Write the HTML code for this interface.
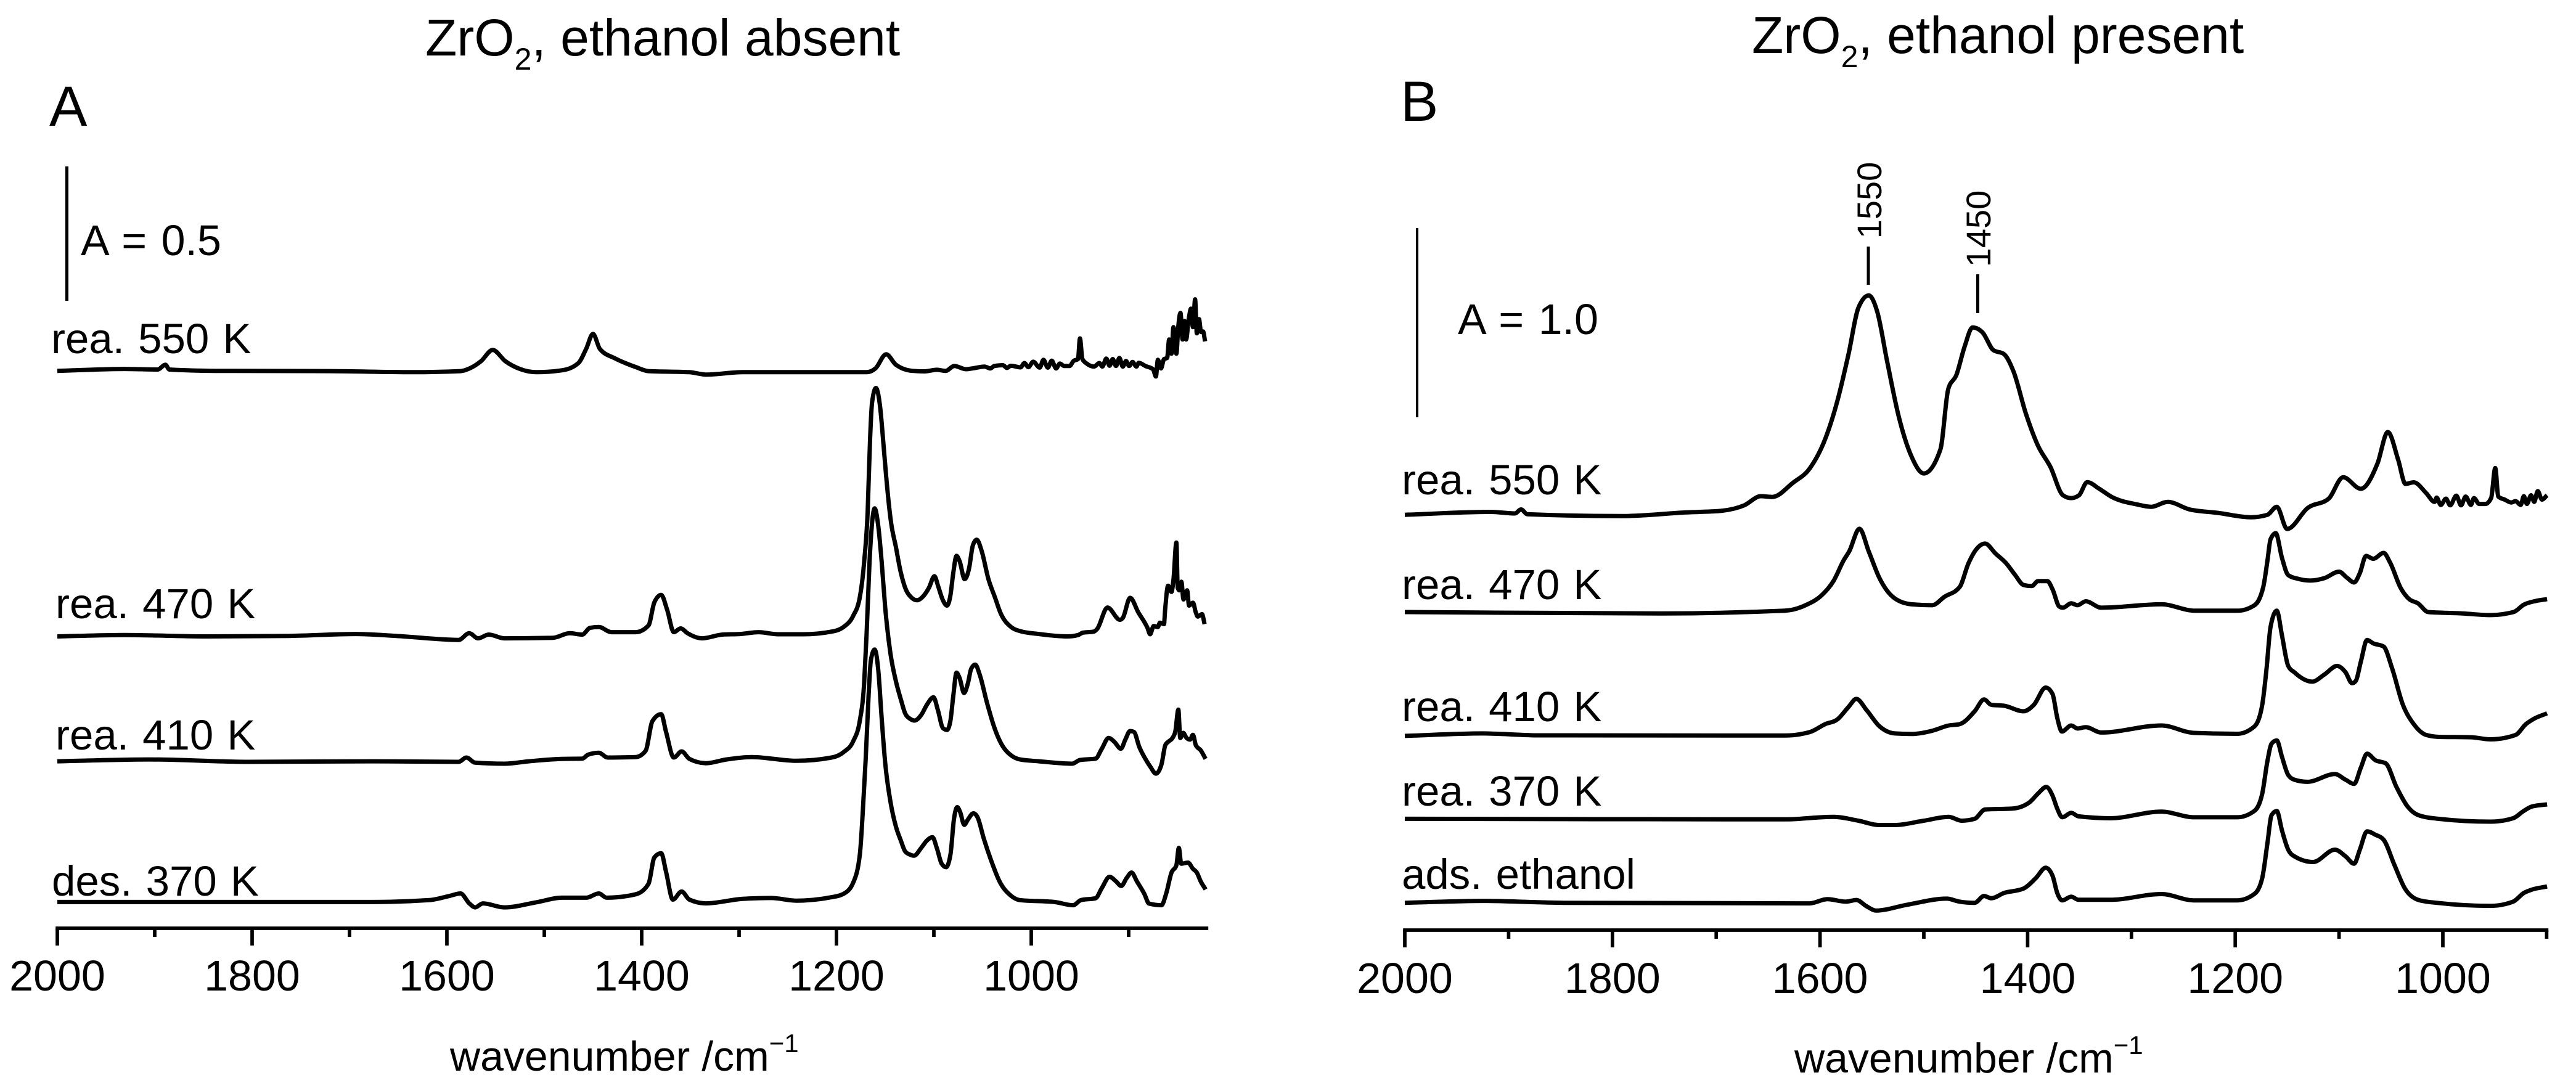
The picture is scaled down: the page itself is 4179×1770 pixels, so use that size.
<!DOCTYPE html>
<html lang="en">
<head>
<meta charset="utf-8">
<title>ZrO2 infrared spectra, ethanol absent and present</title>
<style>
html,body{margin:0;padding:0;background:#fff;}
svg{display:block;}
text{font-family:"Liberation Sans",Arial,sans-serif;fill:#000;}
.series-label{font-size:69px;word-spacing:3px;}
.tick-label{font-size:70px;text-anchor:middle;}
.axis-title{font-size:68px;}
.title{font-size:84px;}
.panel-letter{font-size:92px;}
.scale-label{font-size:70px;word-spacing:4px;}
.band-label{font-size:56px;text-anchor:middle;}
</style>
</head>
<body>
<svg id="figure" xmlns="http://www.w3.org/2000/svg" width="4179" height="1770" viewBox="0 0 4179 1770">
<rect x="0" y="0" width="4179" height="1770" fill="#fff"/>

<g id="panel-a">
<text class="title" x="690" y="90">ZrO<tspan font-size="50" dy="23">2</tspan><tspan dy="-23">, ethanol absent</tspan></text>
<text class="panel-letter" x="80" y="204">A</text>
<rect x="106" y="270" width="5" height="218" fill="#000"/>
<text class="scale-label" x="131" y="414">A = 0.5</text>
<text class="series-label" x="83" y="573">rea. 550 K</text>
<text class="series-label" x="90" y="1003">rea. 470 K</text>
<text class="series-label" x="90" y="1216">rea. 410 K</text>
<text class="series-label" x="84" y="1453">des. 370 K</text>
<text class="axis-title" x="730" y="1737">wavenumber /cm<tspan font-size="42" dy="-30">−1</tspan></text>
</g>

<g id="panel-b">
<text class="title" x="2842" y="86">ZrO<tspan font-size="50" dy="23">2</tspan><tspan dy="-23">, ethanol present</tspan></text>
<text class="panel-letter" x="2272" y="196">B</text>
<rect x="2297" y="370" width="4" height="307" fill="#000"/>
<text class="scale-label" x="2365" y="542">A = 1.0</text>
<text class="band-label" transform="translate(3052,325) rotate(-90)">1550</text>
<rect x="3028.5" y="400" width="5" height="62" fill="#000"/>
<text class="band-label" transform="translate(3229,371) rotate(-90)">1450</text>
<rect x="3206" y="445" width="5" height="63" fill="#000"/>
<text class="series-label" x="2274" y="802">rea. 550 K</text>
<text class="series-label" x="2274" y="972">rea. 470 K</text>
<text class="series-label" x="2274" y="1170">rea. 410 K</text>
<text class="series-label" x="2274" y="1307">rea. 370 K</text>
<text class="series-label" x="2274" y="1442">ads. ethanol</text>
<text class="axis-title" x="2911" y="1740">wavenumber /cm<tspan font-size="42" dy="-30">−1</tspan></text>
</g>
</svg>

<script>
// Spectra as [wavenumber in cm-1, absorbance in milli-A above the trace's own baseline]
const aRea550 = [[2000,0],[1931,7],[1897,5],[1889,23],[1885,5],[1838,0],[1719,-1],[1635,-5],[1586,-1],[1575,12],[1565,36],[1553,78],[1540,36],[1525,7],[1508,-5],[1482,2],[1465,29],[1457,82],[1450,138],[1443,82],[1427,46],[1406,14],[1393,-1],[1351,-5],[1334,-14],[1296,-5],[1169,-5],[1160,9],[1149,62],[1139,23],[1122,0],[1109.5,-2],[1097,4],[1088,0],[1079,18],[1067,6],[1059,10],[1048,16],[1042,9],[1038,18],[1029,21],[1025,11],[1021,19],[1011,13],[1007,29],[1003,14],[998,34],[991.3,12],[987.5,41],[983,12],[979,38],[974.5,9],[970.7,27],[966,18],[960.7,18],[956.5,37],[952,44],[950,121],[947.5,44],[943,27],[935.5,16],[930,29],[927,16],[923,46],[919.6,19],[916.4,44],[913,18],[909.5,48],[906,16],[902.7,37],[899.5,18],[896,33],[892,16],[889.6,30],[882.7,18],[875,6],[872,-21],[870,41],[866.8,9],[863.7,44],[860.5,48],[858.4,117],[856,64],[854,163],[851,64],[849,167],[846.8,216],[844.7,117],[842.6,186],[841,117],[838.4,191],[836,232],[834,163],[831.8,267],[830,140],[827.8,193],[825.7,145],[823.6,147],[821.5,110]];
const aRea470 = [[2000,0],[1931,5],[1847,0],[1762,2],[1694,9],[1652,2],[1588,-13],[1577,12],[1568,-7],[1557,7],[1541,-7],[1491,-5],[1474,12],[1461,7],[1453,32],[1444,35],[1431,16],[1406,16],[1393,41],[1387,127],[1380,155],[1374,101],[1367,16],[1360,30],[1353,12],[1338,-7],[1317,7],[1299,9],[1280,16],[1260,8],[1234,8],[1205,18],[1192.5,36],[1183,76],[1176,147],[1171.5,281],[1168,465],[1165.6,729],[1163.4,874],[1159.5,927],[1155.3,860],[1152,729],[1149,598],[1144,426],[1139,334],[1134,239],[1129.5,182],[1123,145],[1117.5,135],[1110,154],[1105,182],[1099.4,225],[1095.6,187],[1090.7,135],[1086.5,115],[1083.3,147],[1080,239],[1076.8,301],[1073.6,281],[1068.4,214],[1063.9,253],[1060,339],[1056,361],[1051,320],[1044,214],[1037.4,147],[1031,83],[1021,36],[1011.6,20],[992,9],[963,0],[952,5],[947,14],[935.7,18],[932.3,28],[921.7,108],[909,62],[906,69],[898.5,144],[890,89],[880.6,31],[878,8],[874.3,39],[870,35],[868,51],[863.7,46],[862.7,92],[859.5,189],[856,166],[854,212],[851,350],[849.6,181],[848,172],[845.8,204],[843.7,138],[840,172],[838,115],[834,126],[831,89],[829,74],[824.7,83],[822,46]];
const aRea410 = [[2000,0],[1906,7],[1804,-2],[1677,0],[1588,-2],[1580,14],[1571,-5],[1541,-9],[1516,0],[1482,9],[1461,10],[1455,25],[1444,32],[1435,14],[1406,16],[1396,39],[1389,150],[1380,176],[1375,110],[1367,14],[1359,37],[1351,9],[1334,-7],[1313,7],[1287,16],[1241,2],[1205,14],[1192.5,35],[1183,74],[1176,152],[1171.5,297],[1169,483],[1166,748],[1163.4,892],[1160.8,944],[1157,876],[1153.7,748],[1150,575],[1144.6,403],[1139,299],[1134,232],[1129.5,179],[1124.6,159],[1119.8,152],[1113,173],[1107,212],[1100.4,239],[1096,193],[1090.7,124],[1086.5,117],[1083,152],[1080,246],[1076.8,331],[1073.6,311],[1069,255],[1065,292],[1061.7,345],[1057.5,361],[1053,324],[1045.5,219],[1038,127],[1031,67],[1021,23],[1011.6,7],[992,0],[958,-9],[950,5],[934,10],[927.7,46],[920.6,87],[915,74],[908,47],[903.4,81],[898.6,113],[894.7,110],[889,53],[882.5,7],[877.6,-21],[872,-46],[866.3,-12],[862.4,60],[859,74],[855,87],[852,113],[849,193],[847,87],[844,106],[840.5,87],[837,81],[834,99],[831,60],[826,41],[821,9]];
const aDes370 = [[2000,0],[1889,0],[1677,0],[1618,7],[1597,23],[1586,32],[1577,-5],[1571,-20],[1563,-5],[1541,-20],[1508,-1],[1482,16],[1457,16],[1444,32],[1436,16],[1406,29],[1393,68],[1387,166],[1380,182],[1375,113],[1368,9],[1359,39],[1351,9],[1334,-5],[1296,12],[1267,15],[1241,5],[1205,18],[1192.5,31],[1183,71],[1176,177],[1172,400],[1170,534],[1167,771],[1164.7,902],[1160.8,942],[1157,863],[1153.7,690],[1150,520],[1144.6,375],[1139,282],[1134,230],[1129.5,189],[1124.6,177],[1120.4,173],[1113,202],[1107,230],[1101.4,242],[1097,202],[1092,143],[1087.5,130],[1083,177],[1079.4,308],[1076,354],[1073,335],[1068.8,288],[1065,308],[1059.4,331],[1055,315],[1048.7,236],[1040.7,150],[1032.6,77],[1021,24],[1011.6,7],[976,0],[957,-12],[949,7],[934,14],[927.7,51],[919.6,94],[913,77],[907.6,60],[902,90],[897,110],[891.5,77],[884,31],[879,-6],[866.3,-12],[861.5,31],[856,110],[851,137],[848.5,202],[846,143],[839,147],[834,124],[830,110],[826,77],[821,47]];

const bRea550 = [[2000,0],[1917,15],[1894,7],[1888,28],[1882,3],[1791,-7],[1728,13],[1697,20],[1673,50],[1657,98],[1646,94],[1626,169],[1610,244],[1595,400],[1583,606],[1572.5,848],[1563,1092],[1553,1157],[1545,1073],[1535.5,813],[1524,514],[1512,309],[1500,218],[1484,345],[1476.5,663],[1468.6,738],[1460.7,887],[1453,988],[1443.5,962],[1433,868],[1423,848],[1413.5,754],[1401.6,532],[1390,364],[1378,252],[1366,103],[1358,88],[1350.5,103],[1342.6,172],[1331,137],[1319,94],[1295,55],[1281,42],[1265,68],[1244,28],[1216.6,10],[1185,-13],[1169,0],[1160,42],[1150,-75],[1130,37],[1110,85],[1096,198],[1079,137],[1063,270],[1053,436],[1043,289],[1036,163],[1028,171],[1016,114],[1008,68],[1006,91],[1002,52],[997,85],[993,50],[987,101],[982.5,50],[978,96],[973,52],[970,88],[965,57],[959,57],[953.5,88],[949.5,247],[946.6,96],[940.5,80],[934,65],[930,72],[925,52],[922,98],[919,57],[915,103],[912,68],[908.6,125],[904.5,80],[899.6,103]];
const bRea470 = [[2000,0],[1752,-7],[1634,7],[1614,36],[1598,91],[1587,164],[1577,275],[1572,319],[1562,439],[1553,319],[1543,182],[1528,72],[1512,41],[1492,36],[1480,81],[1465.5,132],[1457,257],[1451,319],[1441,361],[1431,309],[1420.6,257],[1412,195],[1404,143],[1396,137],[1390,163],[1381,163],[1376,120],[1369.5,29],[1366,23],[1358,46],[1352,36],[1344,57],[1329,23],[1271,41],[1239,7],[1198,7],[1181.5,36],[1173,133],[1169,270],[1166,384],[1161,416],[1155,286],[1149,195],[1140,176],[1128,166],[1114,179],[1100,213],[1092.5,182],[1085.5,156],[1080,205],[1074,296],[1067,281],[1057,312],[1051,263],[1040.6,127],[1032.4,68],[1024,46],[1014,0],[981,-7],[955,-16],[932,0],[922,39],[910,59],[899.6,68]];
const bRea410 = [[2000,0],[1925,13],[1870,3],[1634,2],[1610,20],[1595,62],[1583,88],[1572.5,153],[1565,195],[1555,135],[1543,52],[1528,13],[1512,10],[1492,27],[1476,55],[1465.5,62],[1451,130],[1442,192],[1435,164],[1422.6,159],[1404,130],[1394,164],[1382.6,255],[1376,221],[1371.5,96],[1367,23],[1358,55],[1352,39],[1344,46],[1329,18],[1271,55],[1240,16],[1198,11],[1181.5,50],[1174,164],[1170,346],[1166,575],[1160,660],[1155,530],[1149,369],[1143,335],[1126,286],[1114,324],[1102,369],[1093.7,335],[1087.5,278],[1084,289],[1079,392],[1073,506],[1067,488],[1057,471],[1049,358],[1038.5,164],[1028,62],[1016,5],[1004,-5],[973,-7],[954,-18],[930,5],[920,62],[912,91],[899.6,119]];
const bRea370 = [[2000,0],[1634,-3],[1587,10],[1563,-10],[1543,-33],[1528,-33],[1500,-10],[1476,10],[1463.5,-10],[1451,0],[1441,49],[1414.5,54],[1398,88],[1390,133],[1382,168],[1376,122],[1371.5,54],[1366.6,8],[1358,31],[1351,13],[1320.5,3],[1271,38],[1240,8],[1198,8],[1181.5,42],[1174,133],[1169,304],[1165,396],[1160,413],[1155,327],[1149,231],[1143,206],[1130.5,195],[1104,236],[1093.7,206],[1085.5,184],[1079,270],[1073,343],[1065,309],[1055,292],[1044.7,168],[1034,65],[1024,20],[1006,1],[954,-15],[932.3,3],[922,42],[914,65],[899.6,76]];
const bAdsEthanol = [[2000,0],[1925,10],[1846,0],[1610,-3],[1593,19],[1575,6],[1565,15],[1555,-19],[1546,-41],[1516,-10],[1478,22],[1465.5,6],[1451,0],[1442,36],[1435,24],[1422.6,52],[1404,75],[1392,131],[1382.6,185],[1376,143],[1371.5,52],[1366.6,13],[1358,32],[1351,16],[1320.5,16],[1271,46],[1240,13],[1198,13],[1181.5,47],[1174,131],[1169,314],[1165,462],[1160,484],[1155,382],[1149,280],[1143,245],[1125,215],[1104,280],[1093.7,245],[1085.5,206],[1080,280],[1073,377],[1065,359],[1057,332],[1046.7,200],[1036.5,75],[1024,16],[1006,0],[954,-16],[932.3,6],[922,52],[914,70],[899.6,86]];

// Vertical stacking offset of each trace above the axis, milli-A
const aOffsets = [2080, 1089, 623, 98];
const bOffsets = [2190, 1677, 1024, 587, 144];

// Axis tick values, cm-1
const majorTicks = [2000, 1800, 1600, 1400, 1200, 1000];
const aMinorTicks = [1900, 1700, 1500, 1300, 1100, 900];
const bMinorTicks = [1900, 1700, 1500, 1300, 1100, 900];

const SVG_NS = 'http://www.w3.org/2000/svg';

function makeX(x0, pxPerWn) { return function (wn) { return x0 + (2000 - wn) * pxPerWn; }; }
function makeY(axisY, pxPerMilliA) { return function (milliA) { return axisY - milliA * pxPerMilliA; }; }

// Monotone cubic path: smooth between points, extrema stay on the data
function smoothPath(xy) {
  const n = xy.length;
  const secant = [];
  for (let i = 0; i < n - 1; i++) {
    secant.push((xy[i + 1][1] - xy[i][1]) / (xy[i + 1][0] - xy[i][0]));
  }
  const slope = [secant[0]];
  for (let i = 1; i < n - 1; i++) {
    if (secant[i - 1] * secant[i] <= 0) {
      slope.push(0);
    } else {
      const h0 = xy[i][0] - xy[i - 1][0];
      const h1 = xy[i + 1][0] - xy[i][0];
      const p = (secant[i - 1] * h1 + secant[i] * h0) / (h0 + h1);
      slope.push(Math.sign(secant[i]) * Math.min(Math.abs(secant[i - 1]), Math.abs(secant[i]), 0.5 * Math.abs(p)) * 2);
    }
  }
  slope.push(secant[n - 2]);
  let d = 'M' + xy[0][0].toFixed(1) + ',' + xy[0][1].toFixed(1);
  for (let i = 0; i < n - 1; i++) {
    const h = (xy[i + 1][0] - xy[i][0]) / 3;
    d += 'C' + (xy[i][0] + h).toFixed(1) + ',' + (xy[i][1] + slope[i] * h).toFixed(1) + ' ' +
      (xy[i + 1][0] - h).toFixed(1) + ',' + (xy[i + 1][1] - slope[i + 1] * h).toFixed(1) + ' ' +
      xy[i + 1][0].toFixed(1) + ',' + xy[i + 1][1].toFixed(1);
  }
  return d;
}

function drawPanel(panelId, prefix, xScale, yScale, axisWnEnd, traces, offsets, minorTicks, tickBaseline) {
  const panel = document.getElementById(panelId);
  const axisY = yScale(0);

  traces.forEach(function (trace, i) {
    const xy = trace.points.map(function (p) {
      return [xScale(p[0]), yScale(p[1] + offsets[i])];
    });
    const line = document.createElementNS(SVG_NS, 'path');
    line.setAttribute('d', smoothPath(xy));
    line.setAttribute('fill', 'none');
    line.setAttribute('stroke', '#000');
    line.setAttribute('stroke-width', '7');
    line.setAttribute('stroke-linejoin', 'round');
    
    
    panel.appendChild(line);
  });

  const axis = document.createElementNS(SVG_NS, 'line');
  axis.setAttribute('x1', xScale(2000) - 2.8);
  axis.setAttribute('x2', xScale(axisWnEnd) + 2.8);
  axis.setAttribute('y1', axisY);
  axis.setAttribute('y2', axisY);
  axis.setAttribute('stroke', '#000');
  axis.setAttribute('stroke-width', '5.7');
  
  
  panel.appendChild(axis);

  majorTicks.forEach(function (wn) {
    const tick = document.createElementNS(SVG_NS, 'line');
    tick.setAttribute('x1', xScale(wn));
    tick.setAttribute('x2', xScale(wn));
    tick.setAttribute('y1', axisY);
    tick.setAttribute('y2', axisY + 28);
    tick.setAttribute('stroke', '#000');
    tick.setAttribute('stroke-width', '5.7');
    
    
    panel.appendChild(tick);

    const label = document.createElementNS(SVG_NS, 'text');
    label.setAttribute('class', 'tick-label');
    label.setAttribute('x', xScale(wn));
    label.setAttribute('y', tickBaseline);
    label.textContent = String(wn);
    
    
    panel.appendChild(label);
  });

  minorTicks.forEach(function (wn) {
    const tick = document.createElementNS(SVG_NS, 'line');
    tick.setAttribute('x1', xScale(wn));
    tick.setAttribute('x2', xScale(wn));
    tick.setAttribute('y1', axisY);
    tick.setAttribute('y2', axisY + 14);
    tick.setAttribute('stroke', '#000');
    tick.setAttribute('stroke-width', '5.7');
    
    
    panel.appendChild(tick);
  });
}

drawPanel('panel-a', 'panel-a', makeX(93, 1.58), makeY(1506, 1 / 2.3), 820,
  [{ name: 'rea-550', points: aRea550 }, { name: 'rea-470', points: aRea470 },
   { name: 'rea-410', points: aRea410 }, { name: 'des-370', points: aDes370 }],
  aOffsets, aMinorTicks, 1607);

drawPanel('panel-b', 'panel-b', makeX(2279, 1.684), makeY(1509, 1 / 3.25), 900,
  [{ name: 'rea-550', points: bRea550 }, { name: 'rea-470', points: bRea470 },
   { name: 'rea-410', points: bRea410 }, { name: 'rea-370', points: bRea370 },
   { name: 'ads-ethanol', points: bAdsEthanol }],
  bOffsets, bMinorTicks, 1611);
</script>
</body>
</html>
